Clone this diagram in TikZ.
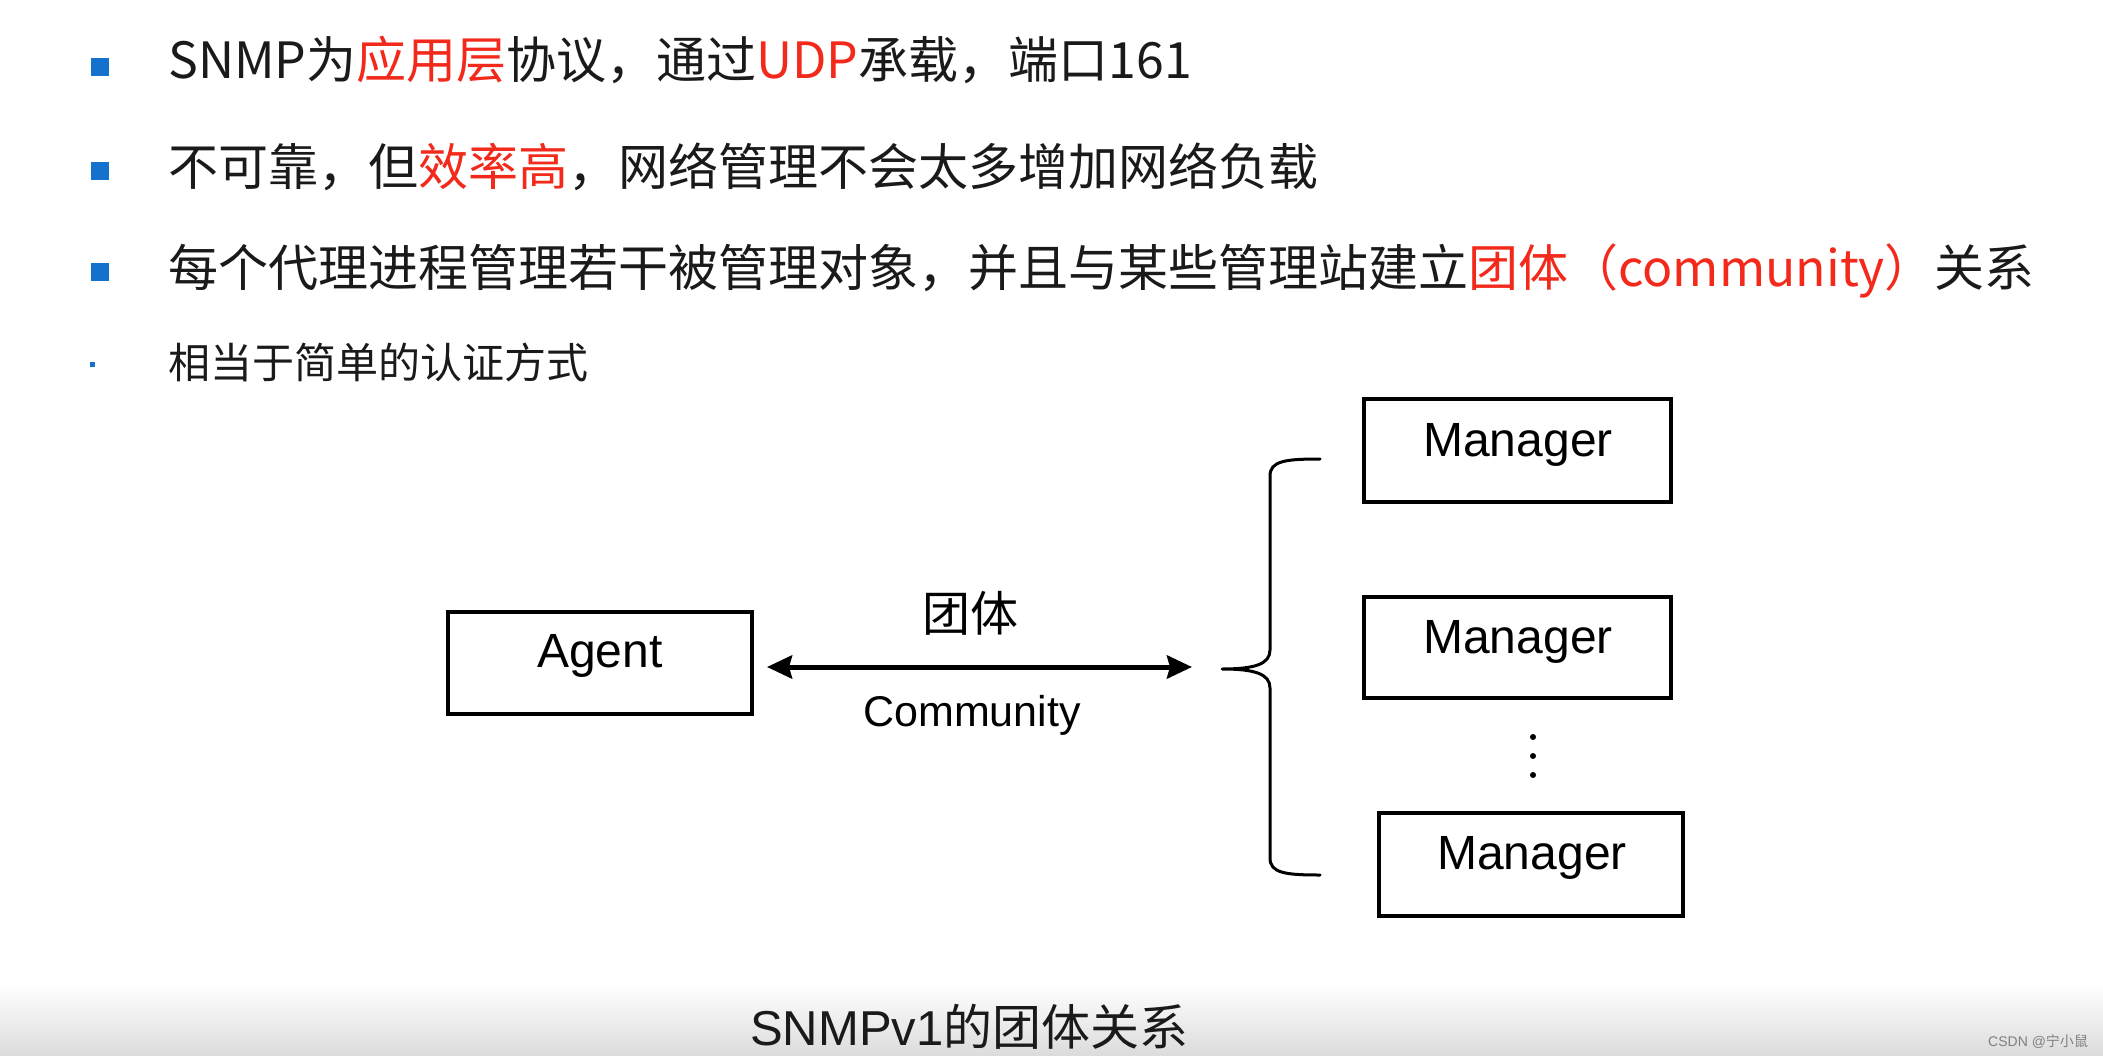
\documentclass[tikz,border=0pt]{standalone}
\usepackage{fontspec}
\setmainfont{Liberation Sans}
\newfontfamily\cjk{Noto Sans CJK SC}
\newfontfamily\arialf{Liberation Sans}
\usetikzlibrary{arrows.meta}
\definecolor{hlred}{HTML}{F2291B}
\definecolor{bulblue}{HTML}{1472CC}
\definecolor{txt}{HTML}{1A1A1A}
\begin{document}
\begin{tikzpicture}[x=1pt,y=-1pt,
  bul/.style={fill=bulblue,draw=none,inner sep=0pt,minimum size=18pt},
  dotbul/.style={fill=bulblue,draw=none,inner sep=0pt,minimum size=5pt},
  line/.style={anchor=base west,inner sep=0pt,text=txt,font=\cjk\fontsize{50}{58}\selectfont},
  smallline/.style={anchor=base west,inner sep=0pt,text=txt,font=\cjk\fontsize{42}{50}\selectfont},
  box/.style={draw=black,line width=4pt,inner sep=0pt},
  lbl/.style={anchor=base,inner sep=0pt,text=black,font=\arialf\fontsize{48}{56}\selectfont},
  tip/.tip={Stealth[length=25pt,width=23pt,inset=3pt]},
  conn/.style={line width=5pt,tip-tip},
  bracepath/.style={line width=3pt,line cap=round,line join=round}
]
\useasboundingbox (0,0) rectangle (2103,1056);
\fill[white] (0,0) rectangle (2103,1056);
\shade[top color=white,bottom color=black!14] (0,985) rectangle (2103,1056);

% bullets
\node[bul] (b1) at (100,67) {};
\node[bul] (b2) at (100,171) {};
\node[bul] (b3) at (100,272) {};
\node[dotbul] (b4) at (92,364) {};

\node[line] (t1) at (168,79) {SNMP为\textcolor{hlred}{应用层}协议，通过\textcolor{hlred}{UDP}承载，端口161};
\node[line] (t2) at (168,186) {不可靠，但\textcolor{hlred}{效率高}，网络管理不会太多增加网络负载};
\node[line] (t3) at (168,287) {每个代理进程管理若干被管理对象，并且与某些管理站建立\textcolor{hlred}{团体（community）}关系};
\node[smallline] (t4) at (168,378) {相当于简单的认证方式};

% diagram boxes
\node[box,minimum width=304pt,minimum height=102pt] (agent) at (600,662.5) {};
\node[lbl] (agentl) at (600,667) {Agent};

\node[box,minimum width=307pt,minimum height=103pt] (m1) at (1517.5,450.5) {};
\node[lbl] (m1l) at (1518,456) {Manager};
\node[box,minimum width=307pt,minimum height=101pt] (m2) at (1517.5,647.5) {};
\node[lbl] (m2l) at (1518,653) {Manager};
\node[box,minimum width=304pt,minimum height=103pt] (m3) at (1531,864.5) {};
\node[lbl] (m3l) at (1532,869) {Manager};

% vertical dots
\foreach \yy/\nm in {737/d1,756/d2,775/d3}{
  \node[circle,fill=black,inner sep=0pt,minimum size=6pt] (\nm) at (1533,\yy) {};
}

% arrow
\coordinate (arrL) at (767,667);
\coordinate (arrR) at (1192,667);
\draw[conn] (arrL) -- (arrR);
\node[anchor=base,inner sep=0pt,font=\cjk\fontsize{48}{56}\selectfont] (tuanti) at (970,631) {团体};
\node[anchor=base,inner sep=0pt,font=\arialf\fontsize{43}{50}\selectfont] (comm) at (972,726) {Community};

% brace
\coordinate (btop) at (1320,459);
\coordinate (btip) at (1222,669);
\coordinate (bbot) at (1320,875);
\draw[bracepath] (btop) .. controls (1285,459) and (1270,461) .. (1270,476)
  -- (1270,650) .. controls (1270,664) and (1255,669) .. (btip)
  .. controls (1255,669) and (1270,674) .. (1270,688)
  -- (1270,858) .. controls (1270,873) and (1285,875) .. (bbot);

% caption
\node[anchor=base west,inner sep=0pt,text=txt] (cap) at (750,1045)
  {{\arialf\fontsize{49}{56}\selectfont SNMPv1}{\cjk\fontsize{49}{56}\selectfont 的团体关系}};

% watermark
\node[anchor=base west,inner sep=0pt,text=black!50] (wm) at (1988,1046)
  {{\arialf\fontsize{14}{16}\selectfont CSDN @}{\cjk\fontsize{14}{16}\selectfont 宁小鼠}};
\end{tikzpicture}
\end{document}
